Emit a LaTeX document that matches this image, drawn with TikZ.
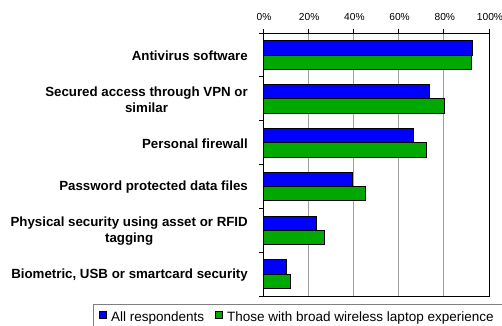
\documentclass[tikz,border=0pt]{standalone}
\usepackage{fontspec}
\setmainfont{Liberation Sans}
\definecolor{barblue}{RGB}{0,0,255}
\definecolor{bargreen}{RGB}{0,168,0}
\definecolor{gridgray}{RGB}{160,160,160}
\definecolor{leggray}{RGB}{128,128,128}
\begin{document}
\begin{tikzpicture}[x=1pt,y=-1pt,
  catlab/.style={font=\fontsize{13.3}{16.5}\selectfont\bfseries, anchor=east, align=center, inner sep=0pt},
  ticklab/.style={font=\fontsize{10.2}{12}\selectfont, anchor=center, inner sep=0pt},
  leglab/.style={font=\fontsize{13.5}{16}\selectfont, anchor=base west, inner sep=0pt},
  bluebar/.style={fill=barblue, draw=black, line width=0.7pt},
  greenbar/.style={fill=bargreen, draw=black, line width=0.7pt},
  gridline/.style={draw=gridgray, line width=0.8pt},
  axisline/.style={draw=black, line width=0.8pt}]
\useasboundingbox (0,0) rectangle (502,325);
\clip (0,0) rectangle (502,325);
% gridlines
\foreach \v in {20,40,60,80}
  \draw[gridline] ({263+2.26*\v},33) -- ({263+2.26*\v},296);
% bars
\foreach \i/\b/\g in {0/92.6/92.2, 1/73.7/80.1, 2/66.7/72.1, 3/39.7/45.3, 4/23.6/27.1, 5/10.2/12.1} {
  \pgfmathsetmacro\yt{33+43.83*\i+7.6}
  \draw[bluebar] (263,\yt) rectangle ({263+2.26*\b},{\yt+14.3});
  \draw[greenbar] (263,{\yt+14.3}) rectangle ({263+2.26*\g},{\yt+28.6});
}
% frame
\draw[axisline] (263,33) rectangle (489,296);
% top ticks and labels
\foreach \v in {0,20,40,60,80,100} {
  \draw[axisline] ({263+2.26*\v},28.5) -- ({263+2.26*\v},33);
  \node[ticklab] (t\v) at ({264+2.26*\v},17) {\v\%};
}
% left ticks
\foreach \i in {0,...,6}
  \draw[axisline] (259,{33+43.83*\i}) -- (263,{33+43.83*\i});
% category labels
\node[catlab] (c1) at (248,55.5) {Antivirus software};
\node[catlab] (c2) at (248,99.5) {Secured access through VPN or\\similar};
\node[catlab] (c3) at (248,143.5) {Personal firewall};
\node[catlab] (c4) at (248,187) {Password protected data files};
\node[catlab] (c5) at (248,231) {Physical security using asset or RFID\\tagging};
\node[catlab] (c6) at (248,275.5) {Biometric, USB or smartcard security};
% legend
\draw[leggray, line width=0.8pt] (93,304.5) rectangle (530,345);
\draw[bluebar] (99,311) rectangle (106.5,318.5);
\node[leglab] (lg1) at (111,321) {All respondents};
\draw[greenbar] (215,311) rectangle (222.5,318.5);
\node[leglab] (lg2) at (227,321) {Those with broad wireless laptop experience};
\end{tikzpicture}
\end{document}
